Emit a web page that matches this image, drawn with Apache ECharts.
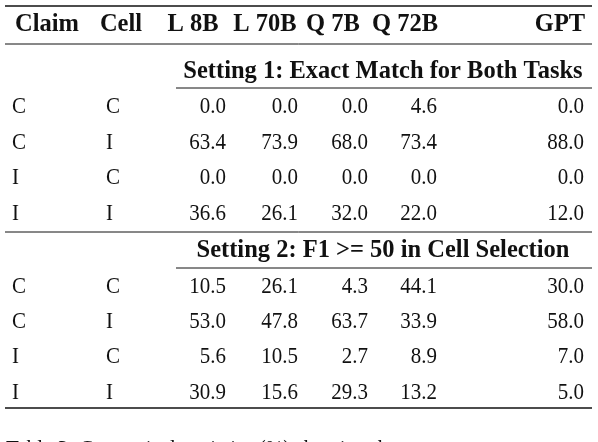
<!DOCTYPE html>
<html><head><meta charset="utf-8">
<script src="https://cdn.jsdelivr.net/npm/echarts@6/dist/echarts.min.js"></script>
<style>html,body{margin:0;padding:0;background:#fff}#c{width:598px;height:442px}</style>
</head><body><div id="c"></div>
<script>
const headers = ['Claim','Cell','L 8B','L 70B','Q 7B','Q 72B','GPT'];
const claims = ['C','C','I','I'];
const cells = ['C','I','C','I'];
const setting1Title = 'Setting 1: Exact Match for Both Tasks';
const setting2Title = 'Setting 2: F1 >= 50 in Cell Selection';
const s1_L8B = [0.0, 63.4, 0.0, 36.6];
const s1_L70B = [0.0, 73.9, 0.0, 26.1];
const s1_Q7B = [0.0, 68.0, 0.0, 32.0];
const s1_Q72B = [4.6, 73.4, 0.0, 22.0];
const s1_GPT = [0.0, 88.0, 0.0, 12.0];
const s2_L8B = [10.5, 53.0, 5.6, 30.9];
const s2_L70B = [26.1, 47.8, 10.5, 15.6];
const s2_Q7B = [4.3, 63.7, 2.7, 29.3];
const s2_Q72B = [44.1, 33.9, 8.9, 13.2];
const s2_GPT = [30.0, 58.0, 7.0, 5.0];
const caption = 'Table 3: Categorical statistics (%) showing the';

// layout (pixel space of the value axes)
const headerX = [47,121,193,265,333,405,560];
const textLeftX = [12,106];
const numRightX = [226,298,368,437,584];
const headerY = 24;
const block1Y = [107,143,178,214], block2Y = [287,322,357,393];
const font = '"Liberation Serif","Times New Roman",serif';
const items = [];
headers.forEach((h,i)=>items.push({x:headerX[i],y:headerY,t:h,a:'center',b:true}));
items.push({x:383,y:71,t:setting1Title,a:'center',b:true});
items.push({x:383,y:250,t:setting2Title,a:'center',b:true});
function block(ys, cols){
  ys.forEach((y,r)=>{
    items.push({x:textLeftX[0],y,t:claims[r],a:'left'});
    items.push({x:textLeftX[1],y,t:cells[r],a:'left'});
    cols.forEach((col,c)=>items.push({x:numRightX[c],y,t:col[r].toFixed(1),a:'right'}));
  });
}
block(block1Y,[s1_L8B,s1_L70B,s1_Q7B,s1_Q72B,s1_GPT]);
block(block2Y,[s2_L8B,s2_L70B,s2_Q7B,s2_Q72B,s2_GPT]);
items.push({x:6,y:450,t:caption,a:'left'});
const rules = [[5,6,592,1.5],[5,44,592,1],[176,88,592,1],[5,232,592,1],[176,268,592,1],[5,408,592,1.5]];

const chart = echarts.init(document.getElementById('c'));
chart.setOption({
  animation:false,
  grid:{left:0,right:0,top:0,bottom:0},
  xAxis:{type:'value',min:0,max:598,show:false},
  yAxis:{type:'value',min:0,max:442,inverse:true,show:false},
  series:[
    {type:'custom',data:items.map((d,i)=>[d.x,d.y,i]),renderItem:(p,api)=>{
      const d=items[api.value(2)];const pt=api.coord([api.value(0),api.value(1)]);
      return {type:'text',x:pt[0],y:pt[1],scaleY:d.b?1.05:1.1,style:{x:0,y:0,text:d.t,align:d.a,verticalAlign:'middle',
        font:(d.b?'bold 24.5px ':'21px ')+font,fill:'#111'}};
    }},
    {type:'custom',data:rules,renderItem:(p,api)=>{
      const a=api.coord([api.value(0),api.value(1)]),b=api.coord([api.value(2),api.value(1)]);
      return {type:'line',shape:{x1:a[0],y1:a[1],x2:b[0],y2:b[1]},style:{stroke:'#111',lineWidth:api.value(3)}};
    }}
  ]
});
</script></body></html>
